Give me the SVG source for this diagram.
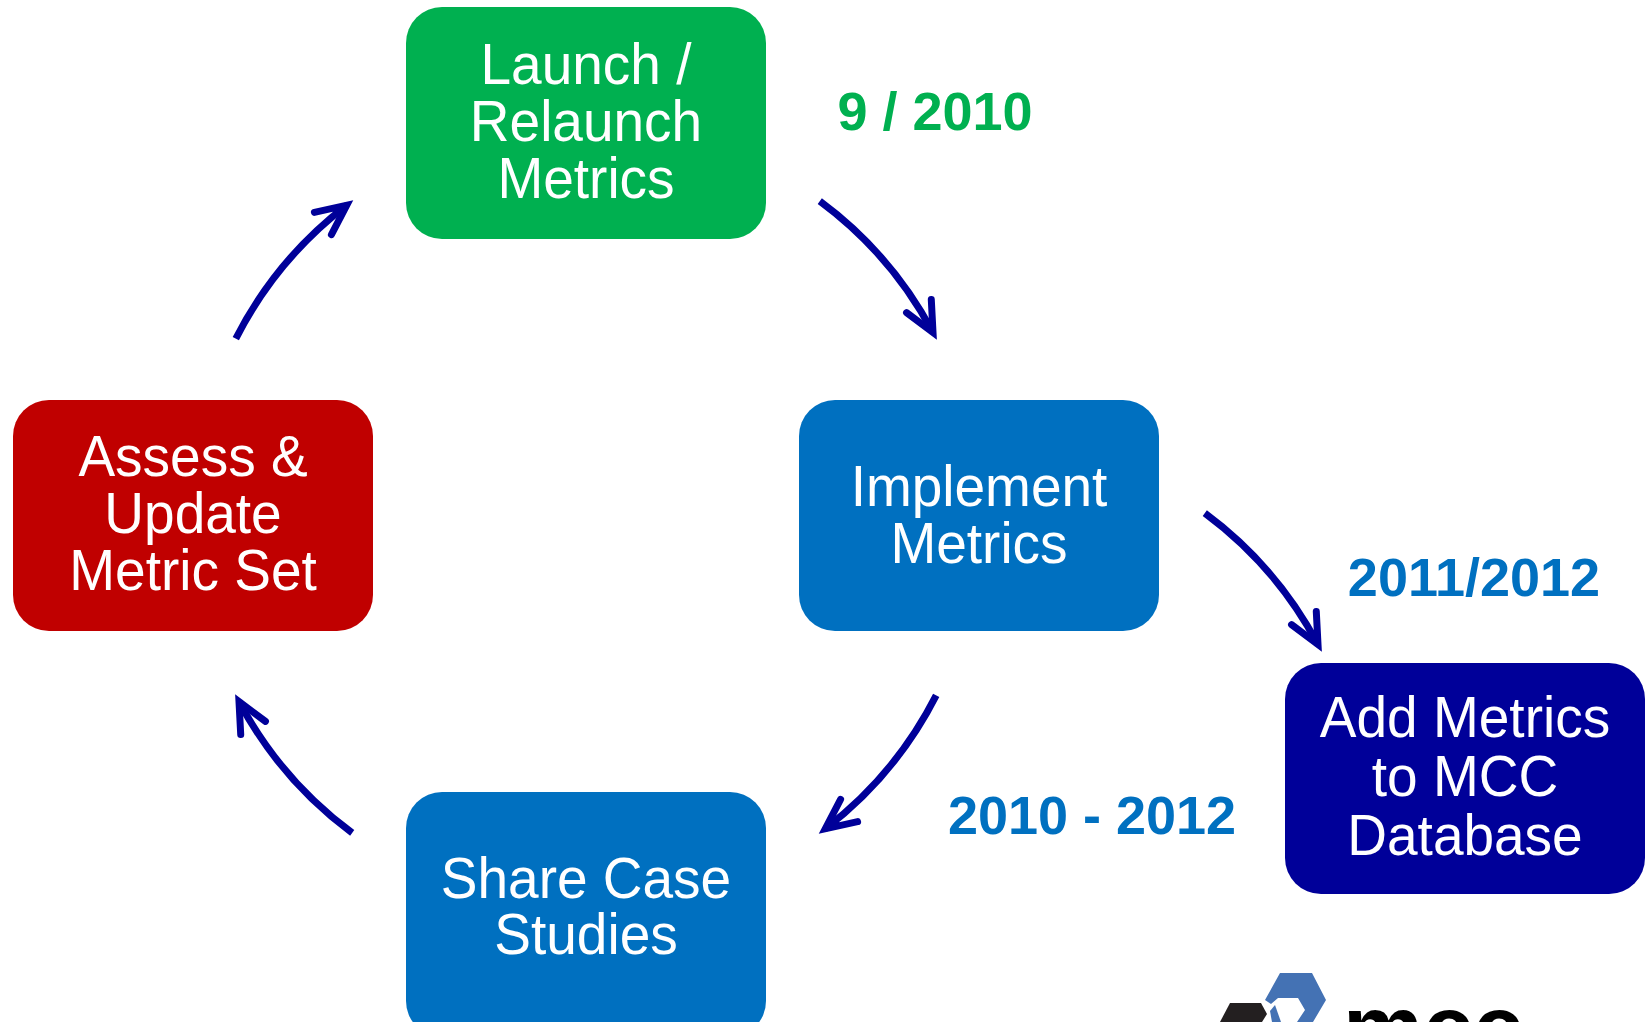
<svg xmlns="http://www.w3.org/2000/svg" width="1650" height="1022" viewBox="0 0 1650 1022">
<style>
.box-text{font-family:"Liberation Sans",Arial,sans-serif;font-size:55px;fill:#FFFFFF;text-anchor:middle}
.date{font-family:"Liberation Sans",Arial,sans-serif;font-size:54px;font-weight:bold;text-anchor:middle}
.arrow{fill:none;stroke:#000099;stroke-width:7;marker-end:url(#head)}
</style>
<defs>
<marker id="head" markerUnits="userSpaceOnUse" orient="auto" markerWidth="60" markerHeight="60" refX="0" refY="0" viewBox="-40 -30 60 60" overflow="visible">
<path d="M0,0 L-15,-6 L-15,6 Z" fill="#000099"/>
<path d="M-30,-14 L0,0 L-30,14" fill="none" stroke="#000099" stroke-width="7" stroke-linecap="round" stroke-linejoin="miter" stroke-miterlimit="10"/>
</marker>
</defs>
<rect width="1650" height="1022" fill="#FFFFFF"/>

<g id="launch">
<rect x="406" y="7" width="360" height="232" rx="36" fill="#00B050"/>
<text class="box-text" transform="translate(586,84) scale(1,1.05)">Launch /</text>
<text class="box-text" transform="translate(586,141) scale(1,1.05)">Relaunch</text>
<text class="box-text" transform="translate(586,198) scale(1,1.05)">Metrics</text>
</g>

<g id="implement">
<rect x="799" y="400" width="360" height="231" rx="36" fill="#0070C0"/>
<text class="box-text" transform="translate(979,506) scale(1,1.05)">Implement</text>
<text class="box-text" transform="translate(979,563) scale(1,1.05)">Metrics</text>
</g>

<g id="assess">
<rect x="13" y="400" width="360" height="231" rx="36" fill="#C00000"/>
<text class="box-text" transform="translate(193,476) scale(1,1.05)">Assess &amp;</text>
<text class="box-text" transform="translate(193,533) scale(1,1.05)">Update</text>
<text class="box-text" transform="translate(193,590) scale(1,1.05)">Metric Set</text>
</g>

<g id="share">
<rect x="406" y="792" width="360" height="245" rx="36" fill="#0070C0"/>
<text class="box-text" transform="translate(586,898) scale(1,1.05)">Share Case</text>
<text class="box-text" transform="translate(586,954) scale(1,1.05)">Studies</text>
</g>

<g id="database">
<rect x="1285" y="663" width="360" height="231" rx="36" fill="#000099"/>
<text class="box-text" transform="translate(1465,737) scale(1,1.05)">Add Metrics</text>
<text class="box-text" transform="translate(1465,796) scale(1,1.05)">to MCC</text>
<text class="box-text" transform="translate(1465,855) scale(1,1.05)">Database</text>
</g>

<g id="labels">
<text class="date" x="935" y="130" fill="#00B050">9 / 2010</text>
<text class="date" x="1474" y="596" fill="#0070C0">2011/2012</text>
<text class="date" x="1092" y="834" fill="#0070C0">2010 - 2012</text>
</g>

<g id="connectors">
<path class="arrow" d="M819.8,201.1 A393,393 0 0 1 933.0,332.5"/>
<path class="arrow" d="M1204.8,513.1 A393,393 0 0 1 1318.0,644.5"/>
<path class="arrow" d="M936.2,695.4 A393,393 0 0 1 825.3,828.8"/>
<path class="arrow" d="M352.2,832.9 A393,393 0 0 1 239.0,701.5"/>
<path class="arrow" d="M235.8,338.6 A393,393 0 0 1 346.7,205.2"/>
</g>

<g id="logo">
<path d="M1280,973 H1312 L1326,1000 L1313,1022 H1297 L1305,1010 L1298,998 H1278 L1271,1004 L1265,1000 Z" fill="#4472B4"/>
<path d="M1270,1011 L1275,1005 L1281,1022 H1272 Z" fill="#4472B4"/>
<path d="M1230,1003 H1261 L1267,1014 L1262,1022 H1220 Z" fill="#231F20"/>
<text x="1343" y="1058" font-family="'Liberation Sans',Arial,sans-serif" font-weight="bold" font-size="89" textLength="180" lengthAdjust="spacingAndGlyphs" fill="#000000">mcc</text>
</g>
</svg>
